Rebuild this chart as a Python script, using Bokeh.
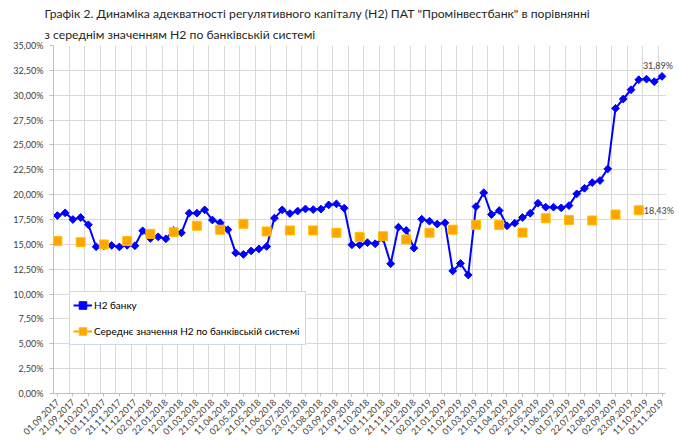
import math
from bokeh.plotting import figure
from bokeh.models import (Range1d, FixedTicker, Title, Legend, LegendItem, Label,
                          BoxAnnotation)
from bokeh.embed import file_html
from bokeh.resources import INLINE

# ---- data ----
tick_labels = ["01.09.2017", "21.09.2017", "11.10.2017", "01.11.2017", "21.11.2017",
               "11.12.2017", "02.01.2018", "22.01.2018", "12.02.2018", "01.03.2018",
               "21.03.2018", "11.04.2018", "02.05.2018", "21.05.2018", "11.06.2018",
               "02.07.2018", "23.07.2018", "13.08.2018", "03.09.2018", "21.09.2018",
               "11.10.2018", "01.11.2018", "21.11.2018", "11.12.2018", "02.01.2019",
               "21.01.2019", "11.02.2019", "01.03.2019", "21.03.2019", "11.04.2019",
               "02.05.2019", "21.05.2019", "11.06.2019", "01.07.2019", "22.07.2019",
               "12.08.2019", "02.09.2019", "23.09.2019", "11.10.2019", "01.11.2019"]

# Н2 банку (every reporting date, two per labelled tick)
bank_h2 = [17.90, 18.17, 17.50, 17.70, 16.97, 14.76, 14.85, 14.89, 14.74, 14.90,
           14.86, 16.36, 15.60, 15.76, 15.56, 16.40, 16.16, 18.14, 18.14, 18.47,
           17.45, 17.18, 16.48, 14.14, 13.99, 14.34, 14.54, 14.79, 17.64, 18.47,
           18.10, 18.35, 18.56, 18.50, 18.55, 18.97, 19.07, 18.64, 14.96, 14.96,
           15.17, 15.06, 15.60, 13.05, 16.73, 16.40, 14.62, 17.53, 17.33, 17.04,
           17.17, 12.33, 13.08, 11.92, 18.80, 20.19, 18.00, 18.40, 16.87, 17.13,
           17.70, 18.13, 19.14, 18.74, 18.74, 18.67, 18.90, 20.08, 20.64, 21.21,
           21.42, 22.59, 28.68, 29.62, 30.55, 31.56, 31.62, 31.36, 31.89]

# Середнє значення Н2 по банківській системі (monthly, every third reporting date)
system_idx = [0, 3, 6, 9, 12, 15, 18, 21, 24, 27, 30, 33, 36, 39, 42, 45, 48, 51,
              54, 57, 60, 63, 66, 69, 72, 75]
system_h2 = [15.33, 15.22, 14.99, 15.33, 16.06, 16.23, 16.87, 16.47, 17.07, 16.30,
             16.40, 16.40, 16.16, 15.73, 15.82, 15.50, 16.17, 16.48, 16.97, 16.95,
             16.18, 17.63, 17.45, 17.40, 18.00, 18.43]

y_ticks = [0, 2.5, 5, 7.5, 10, 12.5, 15, 17.5, 20, 22.5, 25, 27.5, 30, 32.5, 35]

title_line1 = 'Графік 2. Динаміка адекватності регулятивного капіталу (Н2) ПАТ "Промінвестбанк" в порівнянні'
title_line2 = 'з середнім значенням Н2 по банківській системі'
series_names = ["Н2 банку", "Середнє значення Н2 по банківській системі"]

FONT = "Lato"
TXT = "#404040"

def pct(v):
    return f"{v:.2f}%".replace(".", ",")

n = len(bank_h2)
bank_x = list(range(n))
label_idx = list(range(0, n, 2))
x_end = n - 0.5          # right edge of the category axis
x_pad = 1.24             # blank strip right of the axis (room for data labels)

p = figure(width=675, height=440, output_backend="svg", toolbar_location=None,
           x_range=Range1d(-0.5, x_end + x_pad), y_range=Range1d(0, 35),
           min_border_left=53, min_border_right=0, min_border_top=45,
           min_border_bottom=10)
p.outline_line_color = None
p.background_fill_color = "white"

# titles
t2 = Title(text=title_line2, align="left", text_font=FONT, text_font_size="12.2px",
           text_font_style="normal", text_color="#262626", offset=-9, standoff=7)
t1 = Title(text=title_line1, align="left", text_font=FONT, text_font_size="12.2px",
           text_font_style="normal", text_color="#262626", offset=-9, standoff=2)
p.add_layout(t2, "above")
p.add_layout(t1, "above")

# grids
p.xgrid.ticker = FixedTicker(ticks=[i - 0.5 for i in range(0, n, 2)])
p.xgrid.grid_line_color = "#D9D9D9"
p.ygrid.ticker = FixedTicker(ticks=y_ticks)
p.ygrid.grid_line_color = "#D9D9D9"
# blank strip to the right of the plot area
p.add_layout(BoxAnnotation(left=x_end, fill_color="white", fill_alpha=1,
                           line_color=None, level="underlay"))

# axes
p.xaxis.bounds = (-0.5, x_end)
p.xaxis.ticker = FixedTicker(ticks=label_idx)
p.xaxis.major_label_overrides = {i: lab for i, lab in zip(label_idx, tick_labels)}
p.xaxis.major_label_orientation = math.pi / 4
p.xaxis.minor_tick_line_color = None
p.xaxis.major_tick_out = 3
p.xaxis.major_tick_in = 0
p.xaxis.major_label_standoff = 4
p.yaxis.ticker = FixedTicker(ticks=y_ticks)
p.yaxis.major_label_overrides = {t: pct(t) for t in y_ticks}
p.yaxis.minor_tick_line_color = None
p.yaxis.major_tick_out = 4
p.yaxis.major_tick_in = 0
p.yaxis.major_label_standoff = 6
for ax in (p.xaxis, p.yaxis):
    ax.axis_line_color = "#BFBFBF"
    ax.major_tick_line_color = "#BFBFBF"
    ax.major_label_text_font = FONT
    ax.major_label_text_font_size = "9px"
    ax.major_label_text_color = TXT

# series
bl = p.line(bank_x, bank_h2, line_color="#0000FF", line_width=2)
bs = p.scatter(bank_x, bank_h2, marker="square", angle=math.pi / 4, size=5.5,
               fill_color="#0000FF", line_color="#0000FF")
nan = float("nan")
ol = p.line(x=[nan], y=[nan], line_color="#FFA500", line_width=2)  # legend-only line
os_ = p.scatter(system_idx, system_h2, marker="square", size=9,
                fill_color="#FFA500", line_color="#FFC000", line_width=1)

legend = Legend(items=[LegendItem(label=series_names[0], renderers=[bl, bs]),
                       LegendItem(label=series_names[1], renderers=[ol, os_])],
                location=(16, 48), padding=3, spacing=6, glyph_width=19,
                glyph_height=20, label_height=20, label_standoff=2, label_width=208,
                label_text_font=FONT, label_text_font_size="10px",
                label_text_color="#000000", border_line_color="#95B3D7",
                border_line_width=1, background_fill_alpha=1, margin=0)
p.add_layout(legend, "center")

# data labels
p.add_layout(Label(x=bank_x[-1], y=bank_h2[-1], text=pct(bank_h2[-1]),
                   text_align="right", text_baseline="middle", x_offset=11,
                   y_offset=11, text_font=FONT, text_font_size="9px",
                   text_color=TXT))
p.add_layout(Label(x=system_idx[-1], y=system_h2[-1], text=pct(system_h2[-1]),
                   text_align="left", text_baseline="middle", x_offset=5,
                   y_offset=0, text_font=FONT, text_font_size="9px",
                   text_color=TXT))

open("out.html", "w").write(file_html(p, INLINE))
